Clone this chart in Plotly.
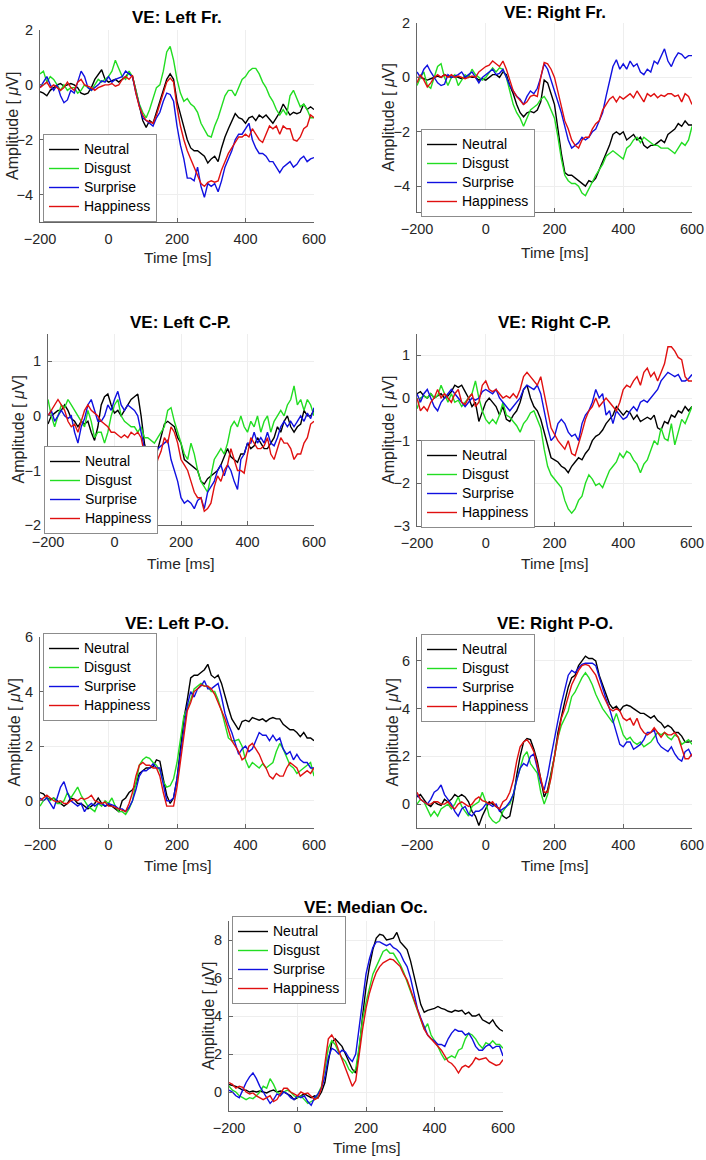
import plotly.graph_objects as go

W, H = 706, 1160

TIME = [-200, -190, -180, -170, -160, -150, -140, -130, -120, -110, -100, -90, -80, -70, -60, -50, -40, -30, -20, -10,
        0, 10, 20, 30, 40, 50, 60, 70, 80, 90, 100, 110, 120, 130, 140, 150, 160, 170, 180, 190,
        200, 210, 220, 230, 240, 250, 260, 270, 280, 290, 300, 310, 320, 330, 340, 350, 360, 370, 380, 390,
        400, 410, 420, 430, 440, 450, 460, 470, 480, 490, 500, 510, 520, 530, 540, 550, 560, 570, 580, 590, 600]

CONDITIONS = ["Neutral", "Disgust", "Surprise", "Happiness"]
X_TICKS = [-200, 0, 200, 400, 600]

# ---- VE: Left Fr. ----
LF_NEUTRAL = [-0.25, -0.3, -0.4, -0.2, -0.1, 0.0, 0.05, -0.05, 0.0, 0.05, 0.0, -0.1, -0.3, -0.35, -0.3, -0.1, 0.2, 0.4, 0.55, 0.2,
              0.1, 0.15, 0.2, 0.1, 0.2, 0.3, 0.45, 0.3, -0.2, -0.8, -1.3, -1.55, -1.3, -1.4, -1.0, -0.6, -0.2, 0.2, 0.4, 0.2,
              -0.6, -1.1, -1.6, -2.0, -2.3, -2.4, -2.4, -2.5, -2.6, -2.85, -2.7, -2.6, -2.8, -2.3, -1.9, -1.6, -1.3, -1.05, -1.2, -1.25,
              -1.4, -1.2, -1.15, -1.3, -1.1, -1.2, -1.1, -1.25, -1.4, -1.2, -1.0, -0.7, -0.9, -1.1, -1.0, -1.05, -1.0, -0.7, -0.9, -0.8, -0.9]
LF_DISGUST = [0.4, 0.5, 0.1, 0.3, 0.2, 0.0, -0.2, 0.0, -0.2, -0.1, -0.1, -0.3, -0.2, 0.0, -0.1, -0.2, 0.0, 0.2, 0.1, 0.2,
              0.3, 0.5, 0.9, 0.6, 0.3, 0.2, 0.5, 0.3, -0.2, -0.7, -1.0, -1.2, -0.9, -0.5, -0.1, 0.0, 0.5, 1.2, 1.4, 0.9,
              0.2, -0.3, -0.6, -0.5, -0.7, -0.8, -1.0, -1.4, -1.6, -1.85, -1.9, -1.5, -1.2, -0.8, -0.4, -0.2, -0.2, -0.4, -0.1, 0.2,
              0.3, 0.5, 0.6, 0.6, 0.4, 0.1, -0.1, -0.4, -0.6, -0.9, -1.1, -0.9, -1.1, -0.4, -0.2, -0.5, -0.8, -0.7, -0.9, -1.2, -1.2]
LF_SURPRISE = [-0.1, 0.1, 0.3, 0.0, -0.2, 0.0, -0.4, -0.65, -0.55, -0.2, -0.3, 0.1, 0.5, 0.3, -0.1, -0.2, -0.1, 0.0, 0.15, 0.1,
               0.3, 0.1, 0.2, 0.25, 0.3, 0.5, 0.4, 0.3, -0.3, -0.8, -1.2, -1.3, -1.4, -1.5, -1.2, -1.0, -0.6, -0.3, -0.35, -0.6,
               -1.5, -2.2, -2.7, -3.4, -3.4, -3.5, -3.0, -3.7, -4.1, -3.6, -3.7, -3.6, -3.9, -3.5, -3.0, -2.7, -2.4, -2.0, -1.8, -1.8,
               -1.6, -1.4, -2.0, -2.3, -2.5, -2.5, -2.6, -2.8, -2.8, -3.0, -3.2, -3.0, -2.9, -2.8, -3.0, -2.9, -2.7, -2.6, -2.8, -2.7, -2.65]
LF_HAPPINESS = [-0.1, 0.0, 0.1, -0.1, 0.0, -0.1, -0.2, -0.1, 0.1, -0.1, -0.2, 0.1, 0.2, 0.0, -0.05, -0.1, -0.2, -0.1, -0.05, 0.0,
                0.0, 0.05, -0.05, 0.0, 0.2, 0.3, 0.2, 0.35, -0.3, -0.8, -1.1, -1.3, -1.35, -1.4, -1.1, -0.7, -0.3, 0.1, 0.25, 0.1,
                -0.8, -1.5, -2.0, -2.4, -2.7, -3.0, -3.3, -3.6, -3.7, -3.55, -3.5, -3.55, -3.5, -3.1, -2.8, -2.5, -2.3, -2.1, -1.9, -1.9,
                -1.8, -1.9, -1.6, -1.8, -2.0, -2.1, -1.8, -1.5, -1.6, -1.5, -1.8, -1.5, -1.6, -1.6, -2.0, -2.05, -1.9, -1.6, -1.5, -1.1, -1.2]

# ---- VE: Right Fr. ----
RF_NEUTRAL = [0.0, 0.0, -0.05, -0.1, -0.05, 0.0, 0.05, 0.0, 0.1, 0.05, 0.0, 0.05, 0.0, -0.05, 0.0, 0.05, 0.0, 0.0, -0.1, -0.05,
              -0.1, 0.0, 0.1, 0.1, 0.0, 0.2, 0.1, -0.3, -0.6, -1.0, -1.3, -1.45, -1.3, -1.25, -1.3, -1.2, -0.9, -0.1, -0.2, -0.6,
              -1.0, -1.9, -2.8, -3.5, -3.6, -3.6, -3.7, -3.8, -3.9, -4.0, -3.8, -3.85, -3.7, -3.4, -3.1, -2.8, -2.5, -2.1, -2.0, -2.1,
              -2.0, -2.3, -2.2, -2.1, -2.3, -2.2, -2.5, -2.6, -2.5, -2.5, -2.4, -2.3, -2.4, -2.1, -2.0, -1.9, -1.7, -1.8, -1.6, -1.75, -1.75]
RF_DISGUST = [-0.3, 0.0, 0.2, -0.3, -0.4, 0.0, 0.4, 0.5, 0.0, -0.3, 0.0, 0.1, -0.3, -0.1, 0.1, 0.0, 0.3, 0.1, 0.0, -0.1,
              0.0, 0.2, 0.35, 0.2, 0.35, 0.3, 0.0, -0.5, -1.0, -1.3, -1.5, -1.8, -1.5, -1.2, -1.1, -1.0, -0.8, -0.7, -0.9, -1.2,
              -1.5, -2.2, -3.0, -3.6, -3.8, -3.9, -3.9, -4.0, -4.25, -4.35, -4.1, -3.8, -3.6, -3.4, -3.2, -2.9, -2.8, -2.7, -2.8, -2.9,
              -3.0, -2.6, -2.5, -2.3, -2.2, -2.4, -2.2, -2.3, -2.4, -2.5, -2.5, -2.6, -2.6, -2.6, -2.7, -2.8, -2.6, -2.4, -2.5, -2.3, -1.8]
RF_SURPRISE = [0.2, 0.0, 0.3, 0.45, 0.2, 0.0, -0.2, -0.3, -0.25, 0.1, 0.0, 0.05, 0.1, 0.2, 0.0, 0.1, 0.2, 0.0, -0.2, 0.0,
               0.1, 0.2, 0.3, 0.1, 0.15, 0.3, 0.0, -0.3, -0.5, -0.7, -0.8, -1.0, -0.7, -0.5, -0.6, -0.4, 0.0, 0.5, 0.3, -0.1,
               -0.5, -0.9, -1.3, -1.8, -2.3, -2.6, -2.5, -2.4, -2.2, -2.3, -2.2, -2.0, -1.9, -1.6, -1.3, -0.7, -0.2, 0.4, 0.65, 0.3,
               0.5, 0.3, 0.6, 0.4, 0.5, 0.2, 0.1, 0.3, 0.2, 0.6, 0.5, 0.8, 1.05, 0.6, 0.4, 0.7, 0.9, 0.85, 0.7, 0.8, 0.8]
RF_HAPPINESS = [-0.2, 0.1, -0.1, -0.35, -0.2, 0.0, 0.1, 0.0, 0.1, 0.0, 0.1, 0.0, 0.05, 0.0, -0.05, 0.0, 0.05, 0.0, 0.2, 0.3,
                0.4, 0.45, 0.6, 0.5, 0.4, 0.6, 0.3, -0.1, -0.5, -0.7, -0.85, -1.0, -0.9, -0.7, -0.65, -0.7, 0.0, 0.55, 0.5, 0.3,
                0.0, -0.5, -1.1, -1.6, -1.9, -2.3, -2.5, -2.6, -2.3, -2.2, -2.2, -1.9, -1.7, -1.6, -1.2, -1.0, -0.8, -0.7, -0.9, -0.7,
                -0.8, -0.7, -0.6, -0.75, -0.5, -0.7, -0.9, -0.6, -0.7, -0.6, -0.75, -0.65, -0.7, -0.6, -0.6, -0.7, -0.65, -0.9, -0.6, -0.7, -1.0]

# ---- VE: Left C-P. ----
LCP_NEUTRAL = [-0.15, 0.0, 0.05, 0.1, 0.1, 0.2, 0.1, -0.05, -0.1, -0.2, -0.1, -0.15, -0.1, -0.3, -0.45, -0.2, 0.2, 0.35, 0.4, 0.2,
               0.05, 0.1, 0.0, 0.1, 0.2, 0.3, 0.35, 0.4, 0.0, -0.5, -0.8, -0.9, -0.85, -0.6, -0.4, -0.15, -0.1, -0.15, -0.2, -0.4,
               -0.5, -0.8, -0.85, -0.9, -0.95, -1.0, -1.2, -1.25, -1.15, -1.1, -1.05, -1.0, -0.9, -0.75, -0.6, -0.75, -0.8, -0.85, -0.7, -0.7,
               -0.5, -0.6, -0.55, -0.4, -0.5, -0.6, -0.6, -0.5, -0.4, -0.2, -0.3, -0.1, 0.0, -0.2, -0.3, -0.2, -0.15, 0.1, 0.0, 0.0, 0.1]
LCP_DISGUST = [0.3, 0.0, -0.2, 0.0, 0.2, 0.15, 0.3, 0.2, 0.1, 0.0, -0.1, -0.2, 0.1, -0.1, -0.4, -0.3, -0.3, -0.5, -0.3, 0.0,
               0.2, 0.3, 0.0, -0.1, -0.15, -0.2, -0.2, -0.3, -0.2, -0.4, -0.4, -0.45, -0.5, -0.4, -0.3, -0.2, 0.1, 0.15, -0.1, -0.3,
               -0.5, -0.7, -0.8, -0.5, -0.7, -1.0, -1.2, -1.3, -1.4, -1.1, -0.8, -0.7, -0.6, -0.7, -0.5, -0.2, -0.1, -0.2, 0.0, -0.2,
               -0.3, -0.1, -0.2, 0.0, -0.3, -0.1, 0.0, -0.3, -0.1, 0.0, 0.1, 0.0, 0.2, 0.3, 0.55, 0.2, 0.3, 0.1, 0.3, 0.2, 0.0]
LCP_SURPRISE = [0.0, 0.1, -0.1, 0.0, 0.1, 0.0, -0.05, 0.0, -0.3, -0.5, -0.2, -0.05, 0.2, 0.3, 0.1, -0.1, -0.1, 0.0, 0.2, 0.1,
                0.3, 0.45, 0.2, 0.1, 0.2, 0.15, 0.1, 0.0, -0.3, -0.6, -0.8, -0.9, -0.7, -0.6, -0.55, -0.5, -0.45, -0.8, -1.0, -1.2,
                -1.5, -1.6, -1.55, -1.6, -1.7, -1.55, -1.5, -1.7, -1.4, -1.3, -1.2, -1.0, -0.9, -1.1, -0.9, -1.0, -1.2, -1.35, -0.8, -0.7,
                -0.5, -0.5, -0.3, -0.5, -0.4, -0.5, -0.3, -0.5, -0.55, -0.4, -0.2, -0.1, -0.2, -0.1, -0.2, -0.1, 0.0, -0.1, 0.05, -0.05, 0.15]
LCP_HAPPINESS = [0.0, 0.1, 0.2, 0.3, 0.2, 0.1, -0.1, -0.2, -0.15, -0.3, -0.1, 0.1, 0.2, 0.1, 0.05, 0.0, -0.1, -0.15, -0.2, -0.3,
                 -0.3, -0.35, -0.4, -0.35, -0.4, -0.3, -0.35, -0.3, -0.4, -0.7, -0.9, -1.0, -1.05, -0.8, -0.65, -0.4, -0.5, -0.2, -0.3, -0.5,
                 -0.8, -0.9, -1.0, -1.2, -1.4, -1.5, -1.5, -1.75, -1.7, -1.6, -1.3, -1.1, -1.2, -1.0, -0.9, -0.6, -0.8, -1.0, -1.0, -1.05,
                 -0.7, -0.4, -0.5, -0.6, -0.6, -0.55, -0.4, -0.7, -0.8, -0.6, -0.4, -0.5, -0.5, -0.6, -0.8, -0.7, -0.7, -0.5, -0.4, -0.15, -0.1]

# ---- VE: Right C-P. ----
RCP_NEUTRAL = [0.1, 0.15, 0.05, 0.0, 0.1, 0.0, 0.05, 0.1, 0.0, 0.05, 0.15, 0.3, 0.25, 0.3, 0.15, 0.0, -0.2, -0.1, -0.55, -0.3,
               -0.1, 0.0, -0.1, -0.2, -0.4, -0.2, -0.5, -0.55, -0.4, -0.3, -0.1, 0.2, 0.3, 0.0, -0.2, -0.3, -0.5, -0.8, -1.1, -1.4,
               -1.45, -1.5, -1.6, -1.65, -1.75, -1.6, -1.5, -1.4, -1.45, -1.3, -1.2, -1.0, -0.9, -0.85, -0.75, -0.6, -0.5, -0.4, -0.2, -0.3,
               -0.4, -0.3, -0.35, -0.5, -0.4, -0.55, -0.5, -0.45, -0.5, -0.4, -0.7, -0.75, -0.55, -0.6, -0.4, -0.45, -0.3, -0.35, -0.2, -0.3, -0.2]
RCP_DISGUST = [-0.25, 0.0, 0.05, 0.0, 0.1, 0.0, 0.05, 0.3, 0.1, -0.1, 0.1, -0.1, -0.05, -0.2, -0.1, 0.0, 0.1, 0.4, 0.0, -0.3,
               -0.5, -0.6, -0.5, -0.6, -0.4, -0.1, -0.4, -0.45, -0.55, -0.65, -0.8, -0.6, -0.5, -0.35, -0.3, -0.5, -0.7, -1.2, -1.6, -1.8,
               -1.9, -2.0, -2.1, -2.4, -2.6, -2.7, -2.6, -2.4, -2.3, -2.0, -1.8, -1.9, -2.05, -2.0, -2.1, -1.9, -1.7, -1.6, -1.5, -1.3,
               -1.4, -1.25, -1.3, -1.45, -1.55, -1.75, -1.55, -1.45, -1.2, -1.0, -1.1, -0.7, -0.95, -1.0, -0.6, -1.1, -0.8, -0.5, -0.6, -0.4, -0.2]
RCP_SURPRISE = [0.1, -0.1, 0.1, 0.2, 0.0, -0.2, -0.3, -0.1, 0.0, 0.1, 0.2, 0.1, 0.0, -0.1, -0.2, -0.1, 0.0, -0.05, 0.0, 0.15,
                0.2, 0.15, 0.1, 0.2, 0.0, -0.1, -0.2, -0.3, -0.2, -0.1, 0.0, 0.2, 0.3, 0.25, 0.2, 0.3, 0.1, -0.3, -0.7, -1.0,
                -0.9, -0.6, -0.5, -0.6, -0.8, -0.9, -0.85, -1.0, -0.6, -0.4, -0.3, -0.1, 0.2, 0.0, 0.1, -0.4, -0.3, -0.6, -0.3, -0.4,
                -0.5, -0.45, -0.3, -0.2, -0.3, -0.1, -0.05, -0.1, 0.0, 0.1, 0.2, 0.4, 0.5, 0.6, 0.55, 0.5, 0.55, 0.4, 0.4, 0.45, 0.55]
RCP_HAPPINESS = [0.0, -0.3, -0.2, -0.3, -0.1, 0.0, 0.2, 0.0, 0.1, 0.0, -0.1, 0.1, 0.2, -0.1, -0.15, 0.0, 0.1, -0.2, -0.1, 0.3,
                 0.4, 0.2, 0.15, 0.2, 0.1, 0.0, 0.05, 0.0, 0.1, 0.0, 0.2, 0.5, 0.6, 0.5, 0.4, 0.3, 0.5, 0.1, -0.3, -0.7,
                 -0.85, -1.0, -1.1, -1.2, -1.0, -1.3, -1.35, -1.1, -0.8, -0.5, -0.3, -0.2, 0.0, -0.2, -0.1, 0.0, -0.1, -0.2, -0.3, -0.1,
                 0.2, 0.3, 0.25, 0.4, 0.5, 0.3, 0.6, 0.7, 0.5, 0.6, 0.4, 0.6, 0.8, 1.2, 1.2, 1.1, 0.95, 0.9, 0.5, 0.4, 0.4]

# ---- VE: Left P-O. ----
LPO_NEUTRAL = [0.3, 0.25, 0.1, 0.05, 0.1, 0.0, -0.1, -0.2, -0.1, 0.1, 0.05, -0.1, -0.1, -0.2, -0.3, -0.2, -0.1, 0.1, -0.1, -0.2,
               -0.15, -0.2, -0.3, -0.4, 0.0, 0.1, 0.3, 0.4, 0.6, 1.0, 1.1, 1.2, 1.2, 1.25, 1.5, 1.45, 0.8, 0.2, -0.1, 0.1,
               0.8, 1.8, 3.0, 3.7, 4.5, 4.6, 4.6, 4.7, 4.8, 5.0, 4.6, 4.5, 4.6, 4.3, 3.8, 3.4, 3.0, 2.8, 2.6, 2.9,
               2.95, 2.9, 3.05, 3.0, 2.95, 3.0, 2.9, 3.0, 3.05, 3.0, 3.0, 2.8, 2.7, 2.6, 2.6, 2.5, 2.35, 2.5, 2.3, 2.3, 2.2]
LPO_DISGUST = [-0.2, 0.0, 0.1, 0.0, 0.1, -0.1, -0.1, 0.0, 0.3, 0.1, 0.3, 0.5, 0.2, 0.0, -0.2, -0.3, -0.4, -0.1, -0.2, 0.0,
               -0.1, 0.1, -0.2, -0.4, -0.4, -0.5, -0.3, 0.0, 0.6, 1.3, 1.5, 1.6, 1.55, 1.4, 1.3, 1.1, 0.7, 0.5, 0.55, 0.8,
               1.4, 2.3, 3.1, 3.4, 3.7, 4.1, 4.2, 4.3, 4.2, 4.2, 4.0, 4.0, 3.7, 3.3, 2.8, 2.3, 2.2, 2.2, 2.25, 2.0,
               1.5, 1.2, 1.4, 1.3, 1.2, 1.35, 1.2, 1.3, 1.4, 1.8, 2.1, 1.9, 1.6, 1.3, 1.2, 1.0, 1.1, 1.2, 1.3, 1.4, 0.9]
LPO_SURPRISE = [0.1, 0.0, 0.1, -0.1, -0.3, 0.1, 0.5, 0.7, 0.3, 0.0, -0.1, -0.2, -0.1, -0.4, -0.2, -0.1, -0.2, -0.1, -0.1, -0.2,
                -0.1, -0.15, -0.2, -0.3, -0.3, -0.4, -0.25, 0.0, 0.4, 0.9, 1.1, 1.1, 1.2, 1.35, 1.2, 1.2, 0.6, 0.0, 0.0, 0.1,
                0.8, 1.8, 2.6, 3.5, 4.0, 3.8, 4.1, 4.2, 4.4, 4.1, 4.1, 4.2, 4.3, 3.8, 3.2, 2.8, 2.5, 2.1, 1.7, 1.9,
                2.0, 1.8, 1.9, 2.2, 2.5, 2.4, 2.4, 2.2, 2.4, 2.2, 2.3, 1.9, 1.7, 1.8, 1.5, 1.7, 1.5, 1.4, 1.4, 1.2, 1.2]
LPO_HAPPINESS = [0.0, 0.1, 0.2, 0.1, 0.0, -0.05, 0.0, -0.1, -0.1, 0.0, 0.05, 0.0, 0.1, 0.05, 0.1, 0.2, 0.0, -0.05, -0.1, -0.05,
                 -0.2, -0.2, -0.25, -0.3, -0.35, -0.4, -0.1, 0.3, 0.9, 1.3, 1.4, 1.3, 1.3, 1.2, 1.2, 0.9, 0.3, -0.2, -0.2, -0.2,
                 0.5, 1.5, 2.5, 3.3, 3.6, 4.0, 4.1, 4.25, 4.2, 4.2, 4.1, 3.9, 3.6, 3.3, 3.0, 2.6, 2.2, 2.0, 1.8, 1.5,
                 1.6, 2.0, 2.1, 1.9, 1.7, 1.4, 1.2, 0.9, 0.8, 1.0, 0.9, 0.9, 1.2, 1.4, 1.3, 1.2, 0.9, 1.0, 1.1, 1.0, 1.2]

# ---- VE: Right P-O. ----
RPO_NEUTRAL = [0.3, 0.4, 0.2, 0.0, -0.1, 0.1, 0.0, -0.05, 0.2, 0.1, 0.2, 0.4, 0.3, 0.4, 0.3, 0.1, -0.3, -0.5, -0.9, -0.5,
               -0.2, 0.1, 0.0, -0.1, -0.2, -0.5, -0.6, -0.5, 0.2, 1.2, 2.0, 2.6, 2.75, 2.7, 2.3, 1.8, 1.0, 0.3, 0.6, 1.3,
               2.0, 3.0, 3.7, 4.3, 4.9, 5.3, 5.4, 5.8, 6.0, 6.2, 6.1, 6.1, 6.0, 5.4, 5.0, 4.6, 4.2, 4.0, 4.1, 3.9,
               4.1, 4.15, 4.1, 4.0, 3.9, 3.8, 3.8, 3.7, 3.6, 3.7, 3.5, 3.4, 3.2, 3.3, 3.2, 3.0, 3.0, 2.85, 2.6, 2.6, 2.65]
RPO_DISGUST = [0.0, 0.2, 0.1, -0.2, -0.5, -0.3, -0.5, -0.2, -0.1, 0.0, -0.2, 0.0, 0.3, -0.1, -0.3, -0.5, -0.1, 0.0, 0.1, 0.5,
               0.1, -0.5, -0.7, -0.8, -0.7, -0.3, -0.1, 0.0, 0.4, 1.0, 1.5, 2.0, 2.2, 1.7, 1.5, 1.3, 0.5, 0.0, 0.4, 1.2,
               2.0, 2.8, 3.3, 3.6, 3.9, 4.5, 4.7, 5.0, 5.3, 5.5, 5.3, 5.0, 4.6, 4.3, 4.0, 3.8, 3.6, 3.4, 3.8, 3.3,
               2.9, 2.7, 2.8, 2.6, 2.5, 2.6, 2.4, 2.5, 2.6, 2.8, 3.0, 2.9, 3.0, 2.8, 2.7, 2.9, 2.8, 2.5, 2.6, 2.7, 2.5]
RPO_SURPRISE = [0.4, 0.2, 0.1, 0.0, 0.2, 0.5, 0.6, 0.8, 0.4, 0.2, 0.0, -0.3, -0.5, -0.2, -0.1, -0.4, -0.5, -0.3, -0.3, -0.2,
                0.0, 0.0, -0.1, 0.0, -0.3, -0.2, -0.1, 0.1, 0.4, 1.0, 1.5, 1.7, 1.6, 2.0, 2.1, 1.5, 0.9, 0.6, 1.2, 2.0,
                2.8, 3.5, 4.2, 4.8, 5.4, 5.6, 5.5, 5.7, 5.85, 5.9, 5.9, 5.9, 5.8, 5.3, 4.8, 4.4, 4.0, 3.5, 3.0, 2.5,
                2.4, 2.6, 2.6, 2.3, 2.4, 2.5, 2.7, 3.0, 3.0, 3.1, 2.6, 2.4, 2.3, 2.2, 2.4, 2.1, 1.9, 1.8, 2.2, 2.3, 2.0]
RPO_HAPPINESS = [0.5, 0.2, 0.1, 0.0, 0.0, 0.1, 0.1, 0.0, 0.0, 0.1, -0.1, -0.2, 0.0, 0.1, 0.0, -0.1, 0.0, 0.2, 0.3, 0.15,
                 0.1, 0.0, 0.1, -0.1, -0.2, 0.1, 0.2, 0.5, 1.0, 1.8, 2.4, 2.6, 2.7, 2.5, 2.2, 1.6, 1.0, 0.5, 0.5, 1.1,
                 2.0, 2.9, 3.6, 4.0, 4.5, 5.0, 5.3, 5.6, 5.8, 5.85, 5.8, 5.6, 5.4, 5.0, 4.6, 4.3, 4.0, 3.9, 4.0, 3.9,
                 3.6, 3.5, 3.6, 3.3, 3.6, 3.2, 3.0, 2.9, 3.0, 3.2, 3.0, 2.8, 3.0, 2.9, 2.9, 3.0, 2.8, 2.3, 1.9, 1.9, 2.1]

# ---- VE: Median Oc. ----
MO_NEUTRAL = [0.4, 0.35, 0.3, 0.2, 0.1, 0.1, 0.0, 0.05, 0.0, 0.05, 0.0, -0.05, 0.05, 0.1, 0.0, 0.05, 0.0, -0.1, -0.2, -0.4,
              -0.3, -0.2, -0.1, -0.2, -0.3, -0.2, -0.3, 0.0, 0.5, 1.6, 2.6, 2.8, 2.6, 2.4, 2.0, 1.6, 1.2, 1.0, 2.2, 4.0,
              5.5, 6.6, 7.5, 8.1, 8.3, 8.25, 8.0, 8.05, 8.1, 8.4, 7.9, 7.7, 7.5, 6.9, 6.1, 5.3, 4.6, 4.2, 4.3, 4.35,
              4.4, 4.5, 4.4, 4.35, 4.25, 4.2, 4.3, 4.25, 4.3, 4.1, 4.2, 4.0, 4.0, 4.1, 3.8, 3.7, 3.6, 3.8, 3.5, 3.3, 3.2]
MO_DISGUST = [0.3, 0.1, 0.0, -0.2, -0.3, -0.4, -0.3, -0.35, -0.2, 0.0, 0.3, 0.2, 0.7, 0.4, 0.0, -0.1, 0.0, 0.1, 0.0, -0.2,
              -0.3, -0.2, -0.4, -0.6, -0.5, -0.4, -0.1, 0.3, 1.2, 2.3, 2.7, 2.5, 2.1, 1.8, 1.6, 1.2, 1.0, 1.2, 2.4, 3.8,
              4.7, 5.5, 6.2, 6.6, 7.0, 7.4, 7.5, 7.3, 7.3, 7.0, 6.7, 6.3, 5.8, 5.3, 4.8, 4.3, 3.9, 3.3, 3.6, 3.0,
              2.7, 2.4, 2.0, 1.7, 1.8, 1.9, 1.8, 2.2, 2.3, 2.8, 3.1, 3.0, 2.8, 2.5, 2.3, 2.6, 2.5, 2.7, 2.5, 2.5, 2.3]
MO_SURPRISE = [0.1, 0.0, -0.2, -0.3, 0.1, 0.5, 0.8, 1.0, 0.7, 0.3, 0.0, -0.3, -0.6, -0.4, -0.1, -0.2, 0.0, -0.1, -0.3, -0.4,
               -0.2, -0.3, -0.2, -0.5, -0.7, -0.3, -0.1, 0.2, 0.8, 1.8, 2.3, 2.2, 2.0, 2.2, 2.1, 1.8, 1.6, 2.0, 3.5, 5.0,
               6.2, 7.0, 7.6, 7.9, 7.9, 7.8, 7.7, 7.8, 7.6, 7.5, 7.3, 6.9, 6.6, 6.0, 5.2, 4.4, 3.9, 3.4, 3.0, 2.8,
               2.7, 2.5, 2.5, 2.4, 2.8, 3.1, 3.3, 3.2, 3.2, 3.0, 3.1, 2.8, 2.4, 2.2, 2.2, 2.4, 2.5, 2.3, 2.4, 2.4, 1.9]
MO_HAPPINESS = [0.5, 0.4, 0.2, 0.3, 0.25, 0.0, -0.1, -0.05, -0.2, -0.3, -0.4, -0.3, -0.2, -0.5, -0.4, -0.1, 0.2, 0.2, 0.0, -0.1,
                -0.2, 0.0, -0.1, -0.05, -0.2, -0.4, -0.3, 0.2, 1.5, 2.8, 3.0, 2.7, 2.2, 1.7, 1.2, 0.7, 0.3, 0.6, 2.0, 3.3,
                4.4, 5.2, 5.8, 6.3, 6.6, 6.8, 6.9, 7.0, 6.95, 6.8, 6.6, 6.2, 5.9, 5.4, 4.9, 4.3, 3.8, 3.3, 3.0, 2.8,
                2.6, 2.4, 2.2, 1.9, 1.6, 1.5, 1.3, 1.0, 1.3, 1.4, 1.3, 1.5, 1.8, 1.7, 1.75, 1.8, 1.6, 1.5, 1.4, 1.45, 1.7]

TITLES = ["VE: Left Fr.", "VE: Right Fr.", "VE: Left C-P.", "VE: Right C-P.",
          "VE: Left P-O.", "VE: Right P-O.", "VE: Median Oc."]
SERIES = [
    [LF_NEUTRAL, LF_DISGUST, LF_SURPRISE, LF_HAPPINESS],
    [RF_NEUTRAL, RF_DISGUST, RF_SURPRISE, RF_HAPPINESS],
    [LCP_NEUTRAL, LCP_DISGUST, LCP_SURPRISE, LCP_HAPPINESS],
    [RCP_NEUTRAL, RCP_DISGUST, RCP_SURPRISE, RCP_HAPPINESS],
    [LPO_NEUTRAL, LPO_DISGUST, LPO_SURPRISE, LPO_HAPPINESS],
    [RPO_NEUTRAL, RPO_DISGUST, RPO_SURPRISE, RPO_HAPPINESS],
    [MO_NEUTRAL, MO_DISGUST, MO_SURPRISE, MO_HAPPINESS],
]
Y_RANGES = [[-5, 2], [-4.95, 2], [-2, 1.5], [-3, 1.5], [-1, 6], [-1, 7], [-1, 9]]
Y_TICKS = [[-4, -2, 0, 2], [-4, -2, 0, 2], [-2, -1, 0, 1], [-3, -2, -1, 0, 1],
           [0, 2, 4, 6], [0, 2, 4, 6], [0, 2, 4, 6, 8]]

# ---- layout (pixel boxes of each axes: left, right, top, bottom) ----
BOXES = [(40, 314, 30, 222), (417, 692, 23, 212), (48, 314, 334, 525), (417, 692, 334, 526),
         (40, 314, 637, 828), (417, 692, 637, 828), (229, 503, 921, 1111)]
LEGEND_LEFT = [43, 421, 44, 421, 43, 421, 232]
LEGEND_MID = [178, 173, 490, 484, 677, 678, 960]
TITLE_Y = [17, 12, 322, 322, 623, 623, 907]
XLABEL_Y = [258, 252, 563, 563, 865, 865, 1147]
YLABEL_X = [12, 388, 18, 388, 14, 392, 208]

COLORS = ["#000000", "#22dd22", "#1010e0", "#e01010"]
FONT = "Liberation Sans, Arial, Helvetica, sans-serif"
AX_COLOR = "#262626"

fig = go.Figure()
annotations = []
layout = dict(
    width=W, height=H, margin=dict(l=0, r=0, t=0, b=0),
    paper_bgcolor="white", plot_bgcolor="white",
    font=dict(family=FONT, size=14, color=AX_COLOR),
    showlegend=True,
)

for i in range(7):
    n = "" if i == 0 else str(i + 1)
    xa, ya = "x" + n, "y" + n
    lg = "legend" + n
    l, r, t, b = BOXES[i]
    for name, vals, col in zip(CONDITIONS, SERIES[i], COLORS):
        fig.add_trace(go.Scatter(x=TIME, y=vals, mode="lines",
                                 name='<span style="font-size:14px">' + name + "</span>",
                                 line=dict(color=col, width=1.4),
                                 xaxis=xa, yaxis=ya, legend=lg))
    layout["xaxis" + n] = dict(
        domain=[l / W, r / W], anchor=ya, range=[-200, 600], tickvals=X_TICKS,
        showline=True, linecolor="#666666", linewidth=1, mirror=False,
        ticks="inside", ticklen=4, tickcolor="#666666",
        showgrid=True, gridcolor="#eeeeee", zeroline=False, ticklabelstandoff=4,
        tickfont=dict(size=14.5, color=AX_COLOR), automargin=False,
    )
    layout["yaxis" + n] = dict(
        domain=[1 - b / H, 1 - t / H], anchor=xa, range=Y_RANGES[i], tickvals=Y_TICKS[i],
        showline=True, linecolor="#666666", linewidth=1, mirror=False,
        ticks="inside", ticklen=4, tickcolor="#666666",
        showgrid=True, gridcolor="#eeeeee", zeroline=False, ticklabelstandoff=3,
        tickfont=dict(size=14.5, color=AX_COLOR), automargin=False,
    )
    layout[lg] = dict(
        x=LEGEND_LEFT[i] / W, y=1 - LEGEND_MID[i] / H, xanchor="left", yanchor="middle",
        bgcolor="white", bordercolor="#8c8c8c", borderwidth=1,
        font=dict(size=12.3, color="#000000", family=FONT),
        tracegroupgap=0, itemwidth=30,
    )
    annotations.append(dict(text="<b>" + TITLES[i] + "</b>", xref="paper", yref="paper",
                            x=(l + r) / 2 / W, y=1 - TITLE_Y[i] / H, showarrow=False,
                            xanchor="center", yanchor="middle",
                            font=dict(size=17, color="#000000", family=FONT)))
    annotations.append(dict(text="Time [ms]", xref="paper", yref="paper",
                            x=(l + r) / 2 / W, y=1 - XLABEL_Y[i] / H, showarrow=False,
                            xanchor="center", yanchor="middle",
                            font=dict(size=15.5, color=AX_COLOR, family=FONT)))
    annotations.append(dict(text="Amplitude [ <i>μ</i>V]", xref="paper", yref="paper",
                            x=YLABEL_X[i] / W, y=1 - (t + b) / 2 / H, showarrow=False,
                            textangle=-90, xanchor="center", yanchor="middle",
                            font=dict(size=16, color=AX_COLOR, family=FONT)))

layout["annotations"] = annotations
fig.update_layout(**layout)
fig.write_html("out.html", config={"displayModeBar": False},
               post_script="document.body.style.margin='0px';")
